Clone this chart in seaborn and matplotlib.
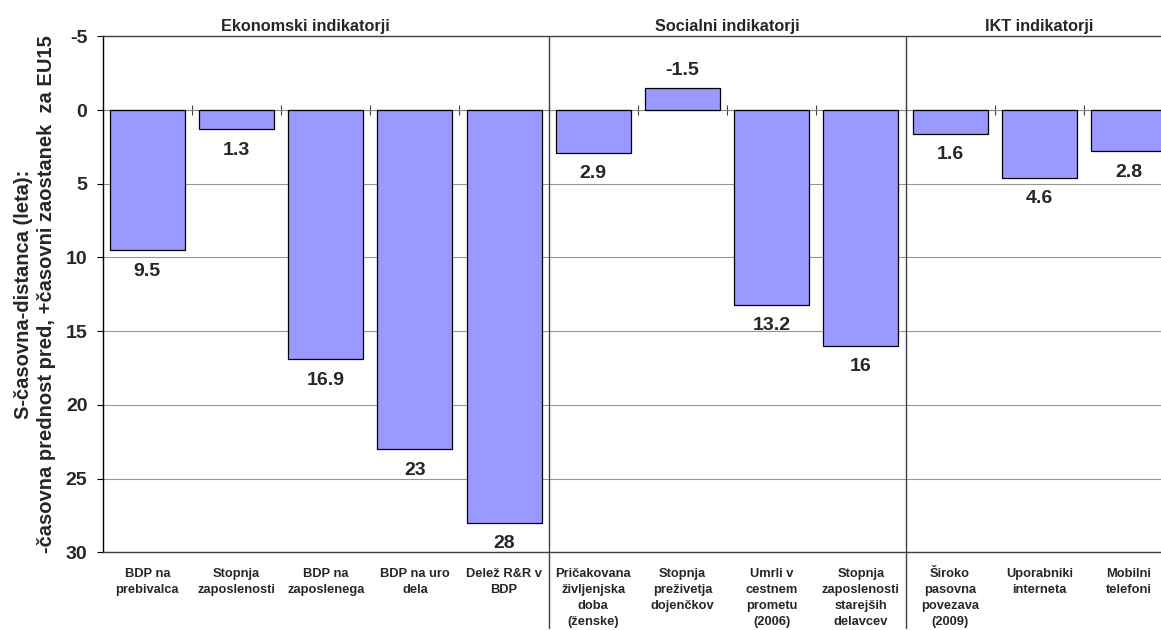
import matplotlib
matplotlib.use("Agg")
import matplotlib.pyplot as plt
import numpy as np
import pandas as pd
import seaborn as sns

# Indicator names (x-axis categories)
categories = [
    "BDP na\nprebivalca",
    "Stopnja\nzaposlenosti",
    "BDP na\nzaposlenega",
    "BDP na uro\ndela",
    "Delež R&R v\nBDP",
    "Pričakovana\nživljenjska\ndoba\n(ženske)",
    "Stopnja\npreživetja\ndojenčkov",
    "Umrli v\ncestnem\nprometu\n(2006)",
    "Stopnja\nzaposlenosti\nstarejših\ndelavcev",
    "Široko\npasovna\npovezava\n(2009)",
    "Uporabniki\ninterneta",
    "Mobilni\ntelefoni",
]

# S-time distance to EU15 in years (+ lag, - lead)
values = [9.5, 1.3, 16.9, 23, 28, 2.9, -1.5, 13.2, 16, 1.6, 4.6, 2.8]

# Indicator groups and how many indicators belong to each
groups = ["Ekonomski indikatorji", "Socialni indikatorji", "IKT indikatorji"]
group_sizes = [5, 4, 3]

y_ticks = [-5, 0, 5, 10, 15, 20, 25, 30]

ylabel_text = ("S-časovna-distanca (leta):\n"
               "-časovna prednost pred, +časovni zaostanek  za EU15")

# ---------------------------------------------------------------- styling
sns.set_theme(style="white")
plt.rcParams["font.family"] = ["Liberation Sans", "DejaVu Sans"]
plt.rcParams["axes.unicode_minus"] = False

W, H = 1161, 630
fig = plt.figure(figsize=(W / 100, H / 100), dpi=100)
# plot area runs a little past the right edge of the canvas
ax = fig.add_axes([102.7 / W, (H - 552.3) / H, 1070.4 / W, 516 / H])

df = pd.DataFrame({"kategorija": categories, "vrednost": values})
sns.barplot(data=df, x="kategorija", y="vrednost", color="#9999FF",
            saturation=1, edgecolor="black", linewidth=0.9, width=0.84,
            errorbar=None, ax=ax, zorder=2)

ax.set_xlim(-0.5, len(categories) - 0.5)
ax.set_ylim(y_ticks[-1], y_ticks[0])          # inverted value axis
ax.set_yticks(y_ticks)
ax.set_yticklabels([f"{t:g}" for t in y_ticks], fontweight="bold")
ax.set_axisbelow(True)
ax.yaxis.grid(True, color="#969696", lw=0.8)
ax.xaxis.grid(False)

ax.tick_params(axis="y", left=True, length=4.5, width=0.8, color="black",
               direction="out", pad=6.5, labelsize=14)
ax.tick_params(axis="x", bottom=False, length=0, pad=11, labelsize=9.3)
ax.set_xticks(range(len(categories)))
ax.set_xticklabels(categories, fontweight="bold", fontsize=9.3,
                   linespacing=1.45)
ax.set_xlabel("")

ax.spines["left"].set_color("black")
ax.spines["left"].set_linewidth(1.0)
for side in ("top", "bottom"):
    ax.spines[side].set_color("#404040")
    ax.spines[side].set_linewidth(1.0)
ax.spines["right"].set_visible(False)

# category axis crossing at zero, ticks between categories
y_lo, y_hi = ax.get_ylim()
zero_frac = (y_lo - 0) / (y_lo - y_hi)
secax = ax.secondary_xaxis(zero_frac)
secax.set_xticks(np.arange(0.5, len(categories) - 0.5, 1.0))
secax.set_xticklabels([])
secax.tick_params(axis="x", direction="inout", length=6.5, width=0.8,
                  color="#404040")
for sp in secax.spines.values():
    sp.set_color("#8c8c8c")
    sp.set_linewidth(0.8)
secax.set_zorder(1.5)

# value labels
for i, v in enumerate(values):
    if v >= 0:
        ax.annotate(f"{v:g}", (i, v), xytext=(0, -9), textcoords="offset points",
                    ha="center", va="top", fontsize=14, fontweight="bold")
    else:
        ax.annotate(f"{v:g}", (i, v), xytext=(0, 6.5), textcoords="offset points",
                    ha="center", va="bottom", fontsize=14, fontweight="bold")

# group separators and headings
bounds = np.cumsum(group_sizes)
for b in bounds[:-1]:
    ax.axvline(b - 0.5, ymin=-0.147, ymax=1, color="#404040", lw=1,
               clip_on=False, zorder=3)

heading_x = [1.77, 6.5, 10.0]
for name, hx in zip(groups, heading_x):
    ax.text(hx, 1.0195, name, transform=ax.get_xaxis_transform(),
            ha="center", va="center", fontsize=11.7, fontweight="bold")

ax.set_ylabel(ylabel_text, fontsize=14.5, fontweight="bold", linespacing=1.25)
ax.yaxis.set_label_coords(-0.0436, 0.5)

fig.savefig("out.png", dpi=100)
